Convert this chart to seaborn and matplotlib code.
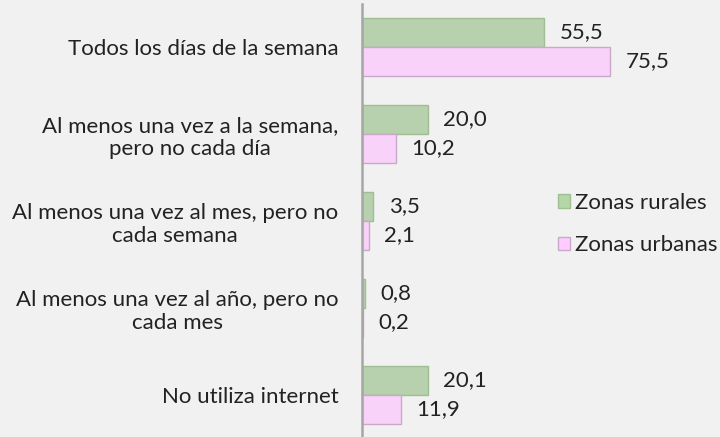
import matplotlib
matplotlib.use("Agg")
import matplotlib.pyplot as plt
import seaborn as sns
import pandas as pd
from matplotlib.patches import Patch

# Frecuencia de uso de internet por zona (%)
categorias = [
    "Todos los días de la semana",
    "Al menos una vez a la semana,\npero no cada día",
    "Al menos una vez al mes, pero no\ncada semana",
    "Al menos una vez al año, pero no\ncada mes",
    "No utiliza internet",
]
zonas = ["Zonas rurales", "Zonas urbanas"]
rurales = [55.5, 20.0, 3.5, 0.8, 20.1]
urbanas = [75.5, 10.2, 2.1, 0.2, 11.9]

colores = {"Zonas rurales": "#b5d6a7", "Zonas urbanas": "#ffccff"}
bordes = {"Zonas rurales": "#9fbf92", "Zonas urbanas": "#c9a8c9"}

df = pd.DataFrame({
    "categoria": categorias * 2,
    "zona": [zonas[0]] * len(categorias) + [zonas[1]] * len(categorias),
    "valor": rurales + urbanas,
})

sns.set_theme(style="white")
plt.rcParams["font.family"] = ["Lato", "DejaVu Sans"]
texto = "#222222"
fondo = "#f1f1f1"
fs = 16

fig = plt.figure(figsize=(7.2, 4.37), dpi=100, facecolor=fondo)
ax = fig.add_axes([362 / 720, -1.5 / 437, 1 - 362 / 720, 435 / 437])
ax.set_facecolor(fondo)

sns.barplot(data=df, y="categoria", x="valor", hue="zona", order=categorias,
            hue_order=zonas, palette=colores, orient="h", width=0.67,
            ax=ax, legend=False)

for cont, zona in zip(ax.containers, zonas):
    for barra in cont:
        barra.set_edgecolor(bordes[zona])
        barra.set_linewidth(1.0)
    ax.bar_label(cont, labels=[f"{v:.1f}".replace(".", ",") for v in cont.datavalues],
                 padding=11, fontsize=fs, color=texto)

ax.set_xlim(0, 109)
ax.set_ylim(len(categorias) - 0.5, -0.5)
ax.set_xlabel("")
ax.set_ylabel("")
ax.set_xticks([])
ax.tick_params(axis="y", length=0, pad=17, labelsize=fs, labelcolor=texto)
for lbl in ax.get_yticklabels():
    lbl.set_multialignment("center")

for lado in ["top", "right", "bottom"]:
    ax.spines[lado].set_visible(False)
ax.spines["left"].set_color("#a6a6a6")
ax.spines["left"].set_linewidth(1.8)

handles = [Patch(facecolor=colores[z], edgecolor=bordes[z], linewidth=1.0) for z in zonas]
leg = fig.legend(handles, zonas, loc="upper left", bbox_to_anchor=(558 / 720, 1 - 193 / 437),
                 frameon=False, fontsize=fs, handlelength=0.55, handleheight=0.55,
                 handletextpad=0.2, labelspacing=1.0, borderaxespad=0, borderpad=0)
for t in leg.get_texts():
    t.set_color(texto)

fig.savefig("out.png", dpi=100, facecolor=fondo)
